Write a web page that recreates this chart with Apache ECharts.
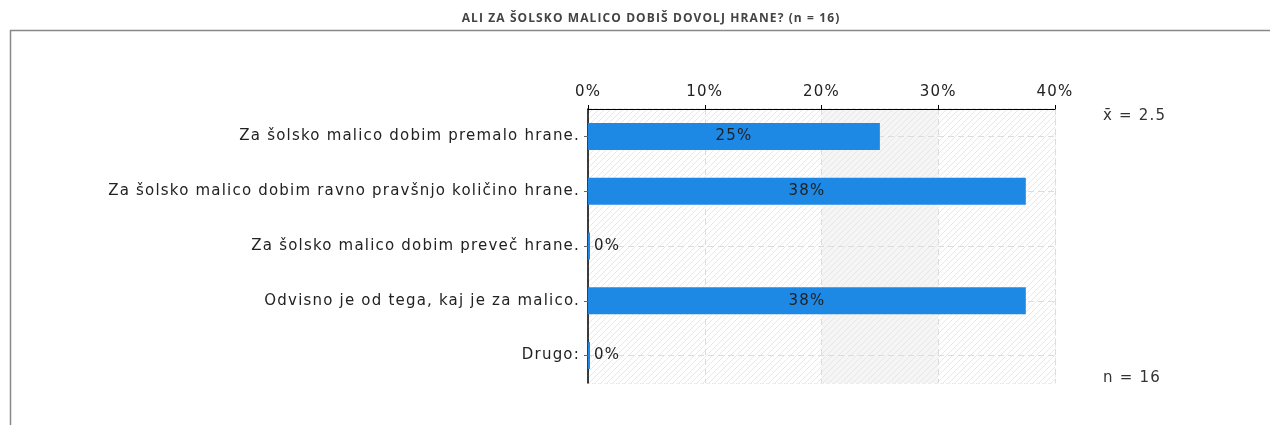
<!DOCTYPE html>
<html lang="sl">
<head>
    <meta charset="UTF-8">
    <title>Ali za šolsko malico dobiš dovolj hrane?</title>
    <script src="https://cdn.jsdelivr.net/npm/echarts/dist/echarts.min.js"></script>
    <style>
        html, body { margin: 0; padding: 0; background: #fff; }
        #chart { width: 1270px; height: 425px; }
    </style>
</head>
<body>
    <div id="chart"></div>

    <script type="text/javascript">
        // podatki
        var categories = [
            'Za šolsko malico dobim premalo hrane.',
            'Za šolsko malico dobim ravno pravšnjo količino hrane.',
            'Za šolsko malico dobim preveč hrane.',
            'Odvisno je od tega, kaj je za malico.',
            'Drugo:'
        ];
        var percents = [25, 37.5, 0, 37.5, 0];
        var meanText = 'x\u0304 = 2.5';
        var nText = 'n = 16';
        var titleText = 'ALI ZA ŠOLSKO MALICO DOBIŠ DOVOLJ HRANE? (n = 16)';

        // razmik med črkami (original je širši od DejaVu)
        (function () {
            var proto = CanvasRenderingContext2D.prototype;
            var fill = proto.fillText, measure = proto.measureText;
            function spacing(ctx) {
                ctx.letterSpacing = /bold|700/.test(ctx.font) ? '1.1px' : '1.2px';
            }
            proto.fillText = function () { spacing(this); return fill.apply(this, arguments); };
            proto.measureText = function () { spacing(this); return measure.apply(this, arguments); };
        })();

        // šrafura za ozadje
        function hatch(bg) {
            var c = document.createElement('canvas');
            c.width = 6; c.height = 6;
            var ctx = c.getContext('2d');
            ctx.fillStyle = bg;
            ctx.fillRect(0, 0, 6, 6);
            ctx.strokeStyle = '#e8e8e8';
            ctx.lineWidth = 1;
            ctx.beginPath();
            ctx.moveTo(0, 6); ctx.lineTo(6, 0);
            ctx.moveTo(-3, 3); ctx.lineTo(3, -3);
            ctx.moveTo(3, 9); ctx.lineTo(9, 3);
            ctx.stroke();
            return { image: c, repeat: 'repeat' };
        }
        var hatchWhite = hatch('#ffffff');
        var hatchGrey = hatch('#f5f5f5');

        var chart = echarts.init(document.getElementById('chart'));

        var option = {
            animation: false,
            textStyle: { fontFamily: 'DejaVu Sans' },
            grid: {
                left: 588, right: 215, top: 109, bottom: 42,
                show: true,
                borderColor: '#dcdcdc',
                borderWidth: 1,
                borderType: 'dashed'
            },
            xAxis: {
                type: 'value',
                position: 'top',
                min: 0, max: 40, interval: 10,
                axisLine: { show: true, lineStyle: { color: '#000', width: 1 } },
                axisTick: { show: true, length: 4, lineStyle: { color: '#000' } },
                axisLabel: {
                    formatter: '{value}%',
                    color: '#222', fontSize: 15, margin: 9
                },
                splitLine: { show: true, lineStyle: { color: '#dcdcdc', type: [6, 4] } },
                splitArea: {
                    show: true,
                    areaStyle: { color: [hatchWhite, hatchWhite, hatchGrey, hatchWhite] }
                }
            },
            yAxis: {
                type: 'category',
                data: categories,
                inverse: true,
                axisLine: { show: true, lineStyle: { color: '#000', width: 1.5 } },
                axisTick: { show: true, alignWithLabel: true, length: 4, lineStyle: { color: '#666' } },
                axisLabel: { color: '#222', fontSize: 15, margin: 8 },
                splitLine: { show: false }
            },
            series: [{
                type: 'bar',
                barWidth: 27,
                barMinHeight: 2,
                itemStyle: { color: '#1e88e5' },
                label: {
                    show: true,
                    position: 'inside',
                    color: '#222',
                    fontSize: 15,
                    formatter: function (p) { return Math.round(p.value) + '%'; }
                },
                data: percents.map(function (v) {
                    var d = { value: v };
                    if (v === 0) d.label = { position: 'right', distance: 4 };
                    return d;
                }),
                markLine: {
                    silent: true,
                    z: 1,
                    symbol: 'none',
                    label: { show: false },
                    lineStyle: { color: '#dcdcdc', type: [6, 4], width: 1 },
                    data: categories.map(function (c) { return { yAxis: c }; })
                },
                z: 3
            }],
            graphic: [
                {
                    type: 'text', x: 651, y: 12,
                    style: {
                        text: titleText,
                        font: 'bold 12px "Open Sans"',
                        fill: '#444',
                        align: 'center'
                    }
                },
                {
                    type: 'line',
                    shape: { x1: 10, y1: 30.5, x2: 1270, y2: 30.5 },
                    style: { stroke: '#888', lineWidth: 1.5 }
                },
                {
                    type: 'line',
                    shape: { x1: 10.5, y1: 30, x2: 10.5, y2: 425 },
                    style: { stroke: '#888', lineWidth: 1.5 }
                },
                {
                    type: 'text', left: 1103, top: 108,
                    style: { text: meanText, font: '15px "DejaVu Sans"', fill: '#333' }
                },
                {
                    type: 'text', left: 1103, top: 370,
                    style: { text: nText, font: '15px "DejaVu Sans"', fill: '#333' }
                }
            ]
        };

        chart.setOption(option);
    </script>
</body>
</html>
